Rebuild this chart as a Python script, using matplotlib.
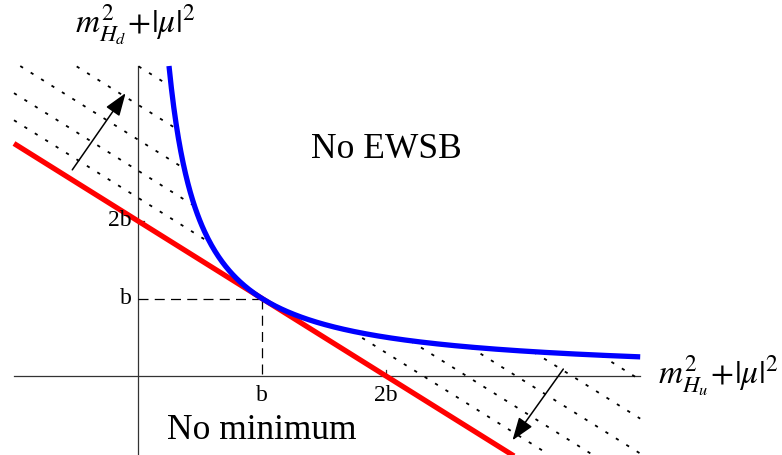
import numpy as np
import matplotlib.pyplot as plt

plt.rcParams['font.family'] = ['Liberation Serif', 'DejaVu Serif']
plt.rcParams['mathtext.fontset'] = 'stix'

# всё в единицах b
b = 1.0
tick_vals = [b, 2 * b]
tick_labels = ['b', '2b']
# смещения пунктирных прямых x + y = c
dotted_c = [2.3, 2.65, 3.05, 3.5, 4.0]
# границы области рисования
x_min, x_max = -1.0, 4.05
y_min, y_max = -1.02, 4.0
# стрелки (хвост, остриё)
arrow_up = [(-0.53, 2.66), (-0.10, 3.65)]
arrow_down = [(3.43, 0.09), (3.02, -0.83)]

fig = plt.figure(figsize=(7.82, 4.55), dpi=100)
ax = fig.add_axes([0, 0, 1, 1])
ax.set_xlim(-138 / 124, 644 / 124)
ax.set_ylim(-79 / 77.5, 376 / 77.5)
ax.axis('off')

# оси
ax.plot([x_min, x_max], [0, 0], color='#333333', lw=0.9, zorder=1)
ax.plot([0, 0], [y_min, y_max], color='#333333', lw=0.9, zorder=1)
ax.plot([2 * b, 2 * b], [0, 0.08], color='#333333', lw=0.9)
ax.plot([0, 0.05], [2 * b, 2 * b], color='#333333', lw=0.9)

# пунктир x + y = c вне области xy > b^2
for c in dotted_c:
    xs = np.linspace(x_min, x_max, 800)
    ys = c - xs
    mask = (ys >= y_min) & (ys <= y_max) & ~((xs > 0) & (ys > 0) & (xs * ys > b * b))
    ys = np.where(mask, ys, np.nan)
    ax.plot(xs, ys, color='black', lw=1.3, linestyle=(0, (1.8, 5.0)), zorder=1)

# штриховые линии к точке (b, b)
ax.plot([0, b], [b, b], color='black', lw=0.9, linestyle=(0, (8, 5)))
ax.plot([b, b], [b, 0], color='black', lw=0.9, linestyle=(0, (8, 5)))

# красная прямая x + y = 2b
xr = np.array([x_min, 3.05])
ax.plot(xr, 2 * b - xr, color='red', lw=3.8, zorder=3, solid_capstyle='butt')

# синяя гипербола xy = b^2
xh = np.linspace(b * b / y_max, x_max, 400)
ax.plot(xh, b * b / xh, color='blue', lw=3.8, zorder=4, solid_capstyle='butt')

# стрелки
for tail, tip in [arrow_up, arrow_down]:
    ax.annotate('', xy=tip, xytext=tail,
                arrowprops=dict(arrowstyle='-|>,head_length=1.4,head_width=0.5',
                                color='black', lw=1.1, shrinkA=0, shrinkB=0))

# подписи делений
for v, lab in zip(tick_vals, tick_labels):
    ax.text(v, -0.12, lab, ha='center', va='top', fontsize=17)
    ax.text(-0.05, v, lab, ha='right', va='center', fontsize=17)

ax.text(2.0, 2.92, 'No EWSB', ha='center', va='center', fontsize=25.5)
ax.text(1.0, -0.70, 'No minimum', ha='center', va='center', fontsize=25.5)

ax.text(-0.02, 4.53, r'$m^2_{H_d}\!+\!|\mu|^2$', ha='center', va='center', fontsize=24)
ax.text(4.19, 0.0, r'$m^2_{H_u}\!+\!|\mu|^2$', ha='left', va='center', fontsize=24)

fig.savefig('out.png', dpi=100)
